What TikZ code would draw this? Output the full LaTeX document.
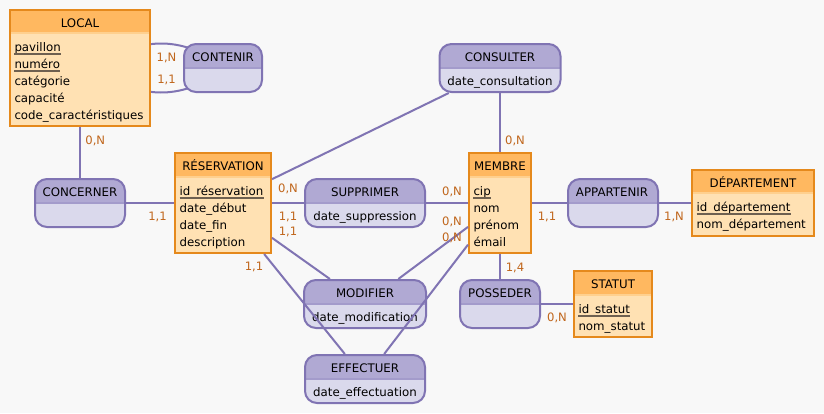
\documentclass[tikz,border=0pt]{standalone}
\usepackage{fontspec}
\setmainfont{DejaVu Sans}
\definecolor{bgc}{HTML}{F8F8F8}
\definecolor{enthead}{HTML}{FFB860}
\definecolor{entbody}{HTML}{FFE1B3}
\definecolor{entline}{HTML}{E5891C}
\definecolor{enthsep}{HTML}{FFD08E}
\definecolor{ashead}{HTML}{B0A9D3}
\definecolor{asbody}{HTML}{DAD9EC}
\definecolor{asline}{HTML}{8074B3}
\definecolor{assep}{HTML}{A39BCB}
\definecolor{cardc}{HTML}{C0661C}
\definecolor{ulc}{HTML}{6E6050}
\pgfdeclarelayer{behind}
\pgfsetlayers{behind,main}
\begin{document}
\begin{tikzpicture}[x=1pt,y=-1pt,
  font=\fontsize{11.8}{14}\selectfont,
  box/.style={rectangle, inner sep=0pt, outer sep=1pt, line width=2pt},
  ent/.style={box, draw=entline, fill=entbody,
    path picture={
      \fill[enthead, sharp corners] ([yshift=3pt]path picture bounding box.north west) rectangle ([yshift=-#1]path picture bounding box.north east);
      \draw[enthsep, line width=1.5pt] ([yshift=-#1]path picture bounding box.north west) -- ([yshift=-#1]path picture bounding box.north east);}},
  ent/.default=23pt,
  asso/.style={box, draw=asline, fill=asbody, rounded corners=12pt,
    path picture={
      \fill[ashead, sharp corners] ([yshift=3pt]path picture bounding box.north west) rectangle ([yshift=-#1]path picture bounding box.north east);
      \draw[assep, line width=1.5pt, sharp corners] ([yshift=-#1]path picture bounding box.north west) -- ([yshift=-#1]path picture bounding box.north east);}},
  asso/.default=24pt,
  leg/.style={draw=asline, line width=2pt},
  ttl/.style={anchor=base, inner sep=0pt},
  att/.style={anchor=base west, inner sep=0pt},
  aatt/.style={anchor=base, inner sep=0pt},
  card/.style={anchor=base, inner sep=0pt, text=cardc, font=\fontsize{11.6}{14}\selectfont},
  ul/.style={draw=ulc, line width=1.3pt}
]
\useasboundingbox (0,0) rectangle (824,413);

% ---------- entities ----------
\node[ent, minimum width=140pt, minimum height=116pt] (local) at (80,68) {};
\node[ttl] (local-t) at (80,27.2) {LOCAL};
\node[att] (local-a1) at (14.3,51.3) {pavillon\ };
\node[att] (local-a2) at (14.3,68.3) {numéro};
\node[att] (local-a3) at (14.3,85.3) {catégorie};
\node[att] (local-a4) at (14.3,102.3) {capacité};
\node[att] (local-a5) at (14.3,119.3) {code\_caractéristiques};
\draw[ul] ([yshift=-2.6pt]local-a1.base west) -- ([yshift=-2.6pt]local-a1.base east);
\draw[ul] ([yshift=-2.6pt]local-a2.base west) -- ([yshift=-2.6pt]local-a2.base east);

\node[ent=24pt, minimum width=96pt, minimum height=100pt] (res) at (223,203) {};
\node[ttl] (res-t) at (223,170.2) {RÉSERVATION};
\node[att] (res-a1) at (179.5,195.3) {id\_réservation\ };
\node[att] (res-a2) at (179.5,212.3) {date\_début};
\node[att] (res-a3) at (179.5,229.3) {date\_fin};
\node[att] (res-a4) at (179.5,246.3) {description};
\draw[ul] ([yshift=-2.6pt]res-a1.base west) -- ([yshift=-2.6pt]res-a1.base east);

\node[ent=24pt, minimum width=62pt, minimum height=100pt] (membre) at (500,203) {};
\node[ttl] (membre-t) at (500,170.2) {MEMBRE};
\node[att] (membre-a1) at (473.3,195.3) {cip};
\node[att] (membre-a2) at (473.3,212.3) {nom};
\node[att] (membre-a3) at (473.3,229.3) {prénom};
\node[att] (membre-a4) at (473.3,246.3) {émail};
\draw[ul] ([yshift=-2.6pt]membre-a1.base west) -- ([yshift=-2.6pt]membre-a1.base east);

\node[ent, minimum width=122pt, minimum height=66pt] (dep) at (753,203) {};
\node[ttl] (dep-t) at (753,187.2) {DÉPARTEMENT};
\node[att] (dep-a1) at (696.5,211.3) {id\_département};
\node[att] (dep-a2) at (696.5,228.3) {nom\_département};
\draw[ul] ([yshift=-2.6pt]dep-a1.base west) -- ([yshift=-2.6pt]dep-a1.base east);

\node[ent=24pt, minimum width=78pt, minimum height=66pt] (statut) at (613,304) {};
\node[ttl] (statut-t) at (613,288.2) {STATUT};
\node[att] (statut-a1) at (578.3,313.3) {id\_statut};
\node[att] (statut-a2) at (578.3,330.3) {nom\_statut};
\draw[ul] ([yshift=-2.6pt]statut-a1.base west) -- ([yshift=-2.6pt]statut-a1.base east);

% ---------- associations ----------
\node[asso, minimum width=78pt, minimum height=48pt] (contenir) at (223,68) {};
\node[ttl] (contenir-t) at (223,61.2) {CONTENIR};

\node[asso, minimum width=121pt, minimum height=48pt] (consulter) at (500,68) {};
\node[ttl] (consulter-t) at (500,61.2) {CONSULTER};
\node[aatt] (consulter-a) at (500,85.7) {date\_consultation};

\node[asso, minimum width=90pt, minimum height=48pt] (concerner) at (80,203) {};
\node[ttl] (concerner-t) at (80,196.2) {CONCERNER};

\node[asso, minimum width=120pt, minimum height=48pt] (suppr) at (365,203) {};
\node[ttl] (suppr-t) at (365,196.2) {SUPPRIMER};
\node[aatt] (suppr-a) at (365,220.7) {date\_suppression};

\node[asso, minimum width=90pt, minimum height=48pt] (appart) at (613,203) {};
\node[ttl] (appart-t) at (612,196.2) {APPARTENIR};

\node[asso, minimum width=122pt, minimum height=48pt] (modif) at (365,304) {};
\node[ttl] (modif-t) at (365,297.2) {MODIFIER};
\node[aatt] (modif-a) at (365,321.7) {date\_modification};

\node[asso, minimum width=80pt, minimum height=48pt] (posseder) at (500,304) {};
\node[ttl] (posseder-t) at (500,297.2) {POSSEDER};

\node[asso, minimum width=120pt, minimum height=48pt] (effect) at (365,379) {};
\node[ttl] (effect-t) at (365,372.2) {EFFECTUER};
\node[aatt] (effect-a) at (365,396.7) {date\_effectuation};

% ---------- background and reflexive legs ----------
\begin{pgfonlayer}{behind}
\fill[bgc] (0,0) rectangle (824,413);
\draw[leg] ([shift={(60,-22)}]local.center) .. controls (158,42) and (176,42) .. ([shift={(-23,-16)}]contenir.center);
\draw[leg] ([shift={(60,22)}]local.center) .. controls (158,94) and (176,94) .. ([shift={(-23,16)}]contenir.center);
\end{pgfonlayer}

% ---------- legs ----------
\draw[leg] (local) -- (concerner);
\draw[leg] (concerner) -- (res);
\draw[leg] (res) -- (suppr);
\draw[leg] (suppr) -- (membre);
\draw[leg] (consulter) -- (membre);
\draw[leg] (consulter) -- (res);
\draw[leg] (membre) -- (appart);
\draw[leg] (appart) -- (dep);
\draw[leg] (res) -- (modif);
\draw[leg] (membre) -- (modif);
\draw[leg] (membre) -- (posseder);
\draw[leg] (posseder) -- (statut);
\draw[leg] (res) -- (effect);
\draw[leg] (membre) -- (effect);

% ---------- cardinalities ----------
\node[card] (k1) at (166.5,61) {1,N};
\node[card] (k2) at (166.5,83.3) {1,1};
\node[card] (k3) at (95.3,144) {0,N};
\node[card] (k4) at (157.5,220.7) {1,1};
\node[card] (k5) at (288,192.7) {0,N};
\node[card] (k6) at (288,220.7) {1,1};
\node[card] (k7) at (288,235) {1,1};
\node[card] (k8) at (254,270.7) {1,1};
\node[card] (k9) at (452,195) {0,N};
\node[card] (k10) at (452,225.3) {0,N};
\node[card] (k11) at (452,241.7) {0,N};
\node[card] (k12) at (547,220.7) {1,1};
\node[card] (k13) at (515,271) {1,4};
\node[card] (k14) at (515,144) {0,N};
\node[card] (k15) at (674,220.7) {1,N};
\node[card] (k16) at (557,321.7) {0,N};
\end{tikzpicture}
\end{document}
